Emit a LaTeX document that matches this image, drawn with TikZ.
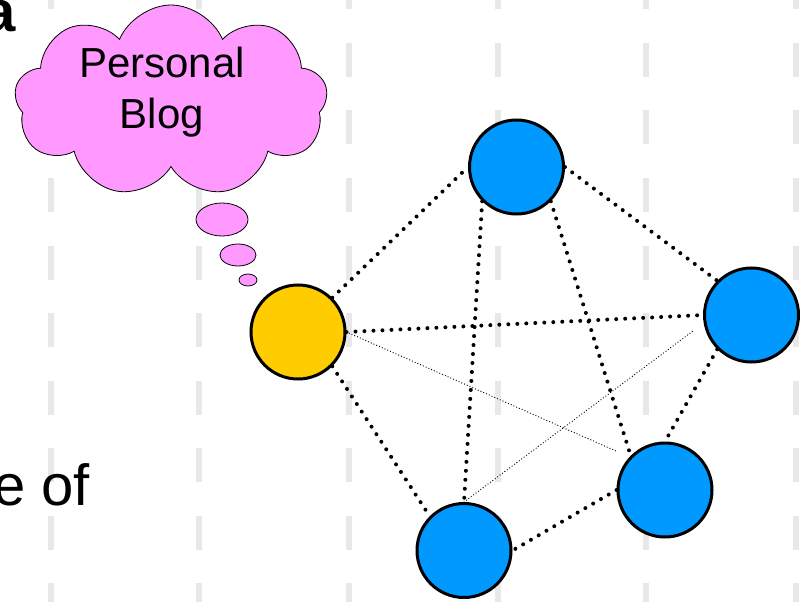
\documentclass[tikz,border=0pt]{standalone}
\usepackage{fontspec}
\setmainfont{Liberation Sans}
\usetikzlibrary{shapes.symbols,shapes.geometric}
\pgfdeclarelayer{background}
\pgfsetlayers{background,main}
\definecolor{gridgray}{RGB}{232,232,232}
\definecolor{nodeblue}{RGB}{0,153,255}
\definecolor{nodeyellow}{RGB}{255,204,0}
\definecolor{cloudpink}{RGB}{255,153,255}
\tikzset{
  gridline/.style={draw=gridgray, line width=6pt, dash pattern=on 34pt off 33.5pt},
  person/.style={circle, draw=black, line width=3pt, minimum size=94pt, inner sep=0pt},
  blue node/.style={person, fill=nodeblue},
  yellow node/.style={person, fill=nodeyellow},
  strong link/.style={line width=4pt, line cap=round, dash pattern=on 0pt off 9pt},
  weak link/.style={line width=1.3pt, line cap=round, dash pattern=on 0pt off 3pt},
  bubble/.style={ellipse, draw=black, line width=0.8pt, fill=cloudpink, inner sep=0pt},
}
\begin{document}
\begin{tikzpicture}[x=1pt,y=-1pt]
\useasboundingbox (0,0) rectangle (807,602);
% vertical dashed guides
\begin{pgfonlayer}{background}
\foreach \gx in {51,199,349,498,646,796}
  \draw[gridline] (\gx,-24.5) -- (\gx,620);
\end{pgfonlayer}
% clipped slide text
\node[anchor=base east, inner sep=0pt, font=\fontsize{58}{60}\selectfont\bfseries] (ta) at (16,32) {a};
\node[anchor=base east, inner sep=0pt, font=\fontsize{58}{60}\selectfont] (teof) at (90,505) {e of};
% thought cloud
\node[cloud, cloud puffs=9, cloud puff arc=135, aspect=1.6, draw=black, line width=0.8pt,
      fill=cloudpink, minimum width=313pt, minimum height=192pt, inner sep=0pt] (cloud) at (171,101) {};
\node[align=center, inner sep=0pt, font=\fontsize{42}{51}\selectfont] (cloudtext) at (162,92) {Personal\\Blog};
\node[bubble, minimum width=52pt, minimum height=33pt] (b1) at (222,219.5) {};
\node[bubble, minimum width=36pt, minimum height=22pt] (b2) at (238,255) {};
\node[bubble, minimum width=18pt, minimum height=12pt] (b3) at (248,280) {};
% people
\node[yellow node] (me) at (298,332) {};
\node[blue node] (top) at (516.5,167) {};
\node[blue node] (right) at (751.5,315) {};
\node[blue node] (mid) at (665,490) {};
\node[blue node] (bot) at (464,550.5) {};
\coordinate (thinA) at (616,451);
\coordinate (thinB) at (693,331);
% links
\begin{pgfonlayer}{background}
\draw[strong link] (me.north east) -- (top.west);
\draw[strong link] (me.east) -- (right.west);
\draw[strong link] (me.south east) -- (bot.north west);
\draw[strong link] (top.east) -- (right.north west);
\draw[strong link] (top.south west) -- (bot.north);
\draw[strong link] (top.south east) -- (mid.north west);
\draw[strong link] (right.south west) -- (mid.north);
\draw[strong link] (mid.west) -- (bot.east);
\draw[weak link] (me.east) -- (thinA);
\draw[weak link] (bot.north) -- (thinB);
\end{pgfonlayer}
\end{tikzpicture}
\end{document}
